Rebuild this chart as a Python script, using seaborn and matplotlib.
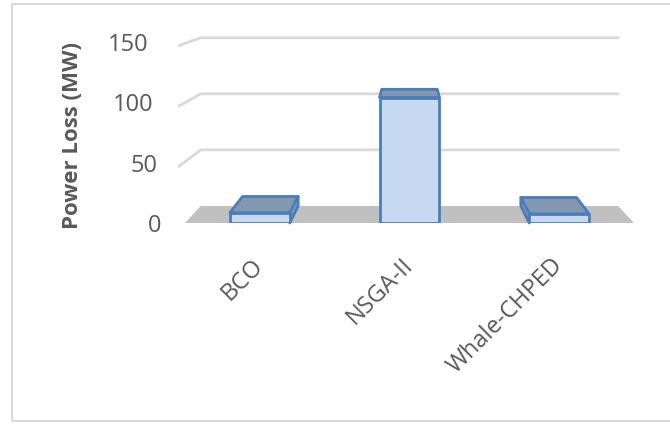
import seaborn as sns
import pandas as pd
import matplotlib.pyplot as plt
from matplotlib.patches import Polygon, Rectangle
from matplotlib.transforms import ScaledTranslation

# data
methods = ["BCO", "NSGA-II", "Whale-CHPED"]
power_loss = [8.5, 104, 7.6]
yticks = [0, 50, 100, 150]

sns.set_style("white")
plt.rcParams["font.family"] = ["Open Sans", "DejaVu Sans"]

df = pd.DataFrame({"method": methods, "loss": power_loss})

fig = plt.figure(figsize=(6.7, 4.25), dpi=100)
ax = fig.add_axes([185 / 670, 202 / 425, 449 / 670, 181 / 425])

# fake excel-style 3d: perspective towards a vanishing point (data coords)
K, VPX, VPY = 0.07, 1.0, 201.0
def back(x, y):
    return x + K * (VPX - x), y + K * (VPY - y)

grid_col = "#d9d9d9"
edge_col = "#4a7ebb"
top_col = "#8497b0"
text_col = "#595959"

# floor
x0, x1 = -0.5, 2.5
ax.add_patch(Polygon([(x0, 0), (x1, 0), back(x1, 0), back(x0, 0)],
                     closed=True, facecolor="#c0c0c0", edgecolor="none",
                     zorder=1, clip_on=False))
# wall gridlines
for v in yticks[1:]:
    bl = back(x0, v)
    br = back(x1, v)
    ax.plot([x0 - 0.04, bl[0], br[0]], [v - 3, bl[1], br[1]], color=grid_col, lw=2,
            zorder=0.5, clip_on=False, solid_capstyle="round")

sns.barplot(data=df, x="method", y="loss", width=0.4, color="#c6d9f1",
            edgecolor=edge_col, linewidth=2, saturation=1, ax=ax, zorder=3)

for p in ax.patches:
    if not isinstance(p, Rectangle):
        continue
    a = p.get_x()
    b = a + p.get_width()
    h = p.get_height()
    if h <= 0:
        continue
    cx = (a + b) / 2
    faces = [[(a, h), (b, h), back(b, h), back(a, h)]]
    if cx < VPX - 0.1:
        faces.append([(b, 0), (b, h), back(b, h), back(b, 0)])
    elif cx > VPX + 0.1:
        faces.append([(a, 0), (a, h), back(a, h), back(a, 0)])
    for f in faces:
        ax.add_patch(Polygon(f, closed=True, facecolor=top_col,
                             edgecolor=edge_col, lw=2, joinstyle="round",
                             zorder=2.5, clip_on=False))
    p.set_joinstyle("round")

ax.set_xlim(-0.5, 2.5)
ax.set_ylim(0, 150)
ax.set_yticks(yticks)
ax.set_xlabel("")
ax.set_ylabel("Power Loss (MW)", fontsize=16, fontweight="bold", color=text_col)
ax.yaxis.set_label_coords(-0.227, 0.486)
sns.despine(ax=ax, left=True, bottom=True)
ax.tick_params(axis="y", length=0, pad=26, labelsize=17, labelcolor=text_col)
ax.tick_params(axis="x", length=0, pad=22, labelsize=17, labelcolor=text_col)
plt.setp(ax.get_xticklabels(), rotation=45, ha="right", va="top",
         rotation_mode="anchor")

# y labels follow the slanted side wall a bit
for lbl, v in zip(ax.get_yticklabels(), yticks):
    dx = (150 - v) / 150 * 9 / 72
    lbl.set_transform(lbl.get_transform() + ScaledTranslation(dx, 0, fig.dpi_scale_trans))
for lbl in ax.get_xticklabels():
    lbl.set_transform(lbl.get_transform() + ScaledTranslation(-6 / 72, 0, fig.dpi_scale_trans))

# chart frame
fig.add_artist(Rectangle((12 / 670, 4 / 425), 1, 417 / 425, transform=fig.transFigure,
                         fill=False, edgecolor="#d9d9d9", lw=1.5))

fig.savefig("out.png", dpi=100)
